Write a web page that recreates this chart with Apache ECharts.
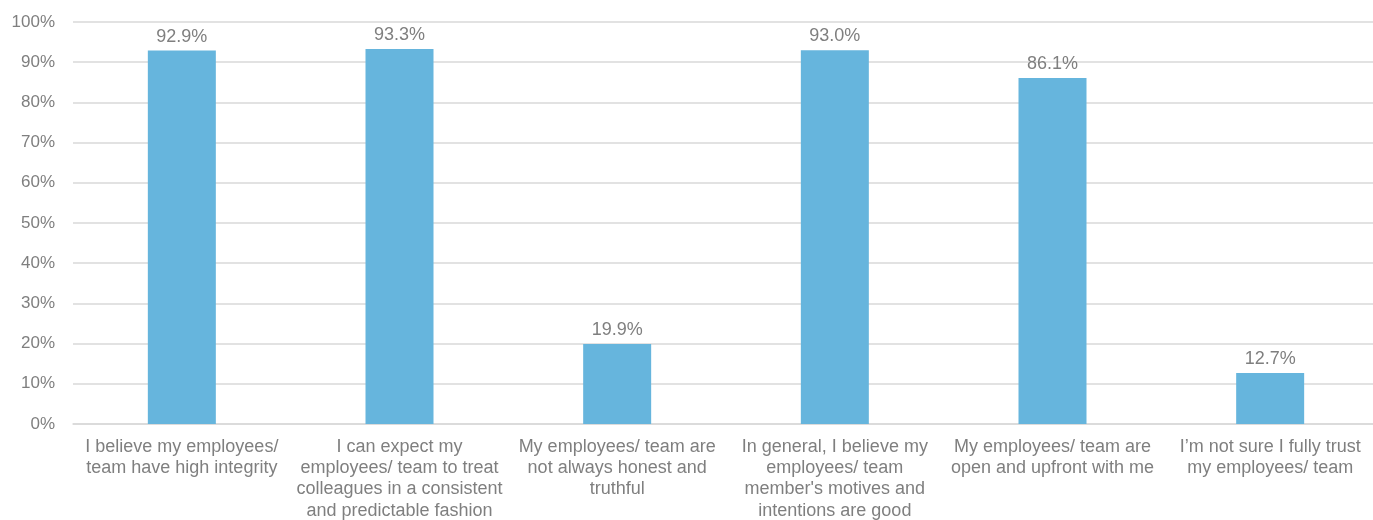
<!DOCTYPE html>
<html><head><meta charset="utf-8">
<script src="https://cdn.jsdelivr.net/npm/echarts@6/dist/echarts.min.js"></script>
<style>html,body{margin:0;padding:0;background:#fff;overflow:hidden}#c{width:1379px;height:520px}</style>
</head><body><div id="c"></div>
<script>
const categories = [
  "I believe my employees/\nteam have high integrity",
  "I can expect my\nemployees/ team to treat\ncolleagues in a consistent\nand predictable fashion",
  "My employees/ team are\nnot always honest and\ntruthful",
  "In general, I believe my\nemployees/ team\nmember's motives and\nintentions are good",
  "My employees/ team are\nopen and upfront with me",
  "I\u2019m not sure I fully trust\nmy employees/ team"
];
const values = [92.9, 93.3, 19.9, 93.0, 86.1, 12.7];
const yTicks = [0, 10, 20, 30, 40, 50, 60, 70, 80, 90, 100];

const font = "'Liberation Sans', Arial, Helvetica, sans-serif";
const txt = '#7f7f7f';
const chart = echarts.init(document.getElementById('c'), null, {renderer: 'canvas'});
chart.setOption({
  animation: false,
  grid: {left: 73, right: 0, top: 22, bottom: 96, containLabel: false, outerBoundsMode: 'none'},
  xAxis: {
    type: 'category', data: categories,
    axisLine: {show: true, lineStyle: {color: '#d9d9d9', width: 1.5}},
    axisTick: {show: false},
    axisLabel: {interval: 0, color: txt, fontFamily: font, fontSize: 18, lineHeight: 21.3, margin: 12}
  },
  yAxis: {
    type: 'value', min: yTicks[0], max: yTicks[yTicks.length - 1], interval: 10,
    axisLine: {show: false}, axisTick: {show: false},
    splitLine: {lineStyle: {color: '#d9d9d9', width: 1.5}},
    axisLabel: {color: txt, fontFamily: font, fontSize: 17, margin: 18, formatter: v => v + '%'}
  },
  series: [{
    type: 'bar', data: values, barWidth: 68,
    itemStyle: {color: '#66b5dd'},
    label: {show: true, position: 'top', distance: 5, color: txt, fontFamily: font, fontSize: 18,
      formatter: p => p.value.toFixed(1) + '%'}
  }]
});
</script></body></html>
